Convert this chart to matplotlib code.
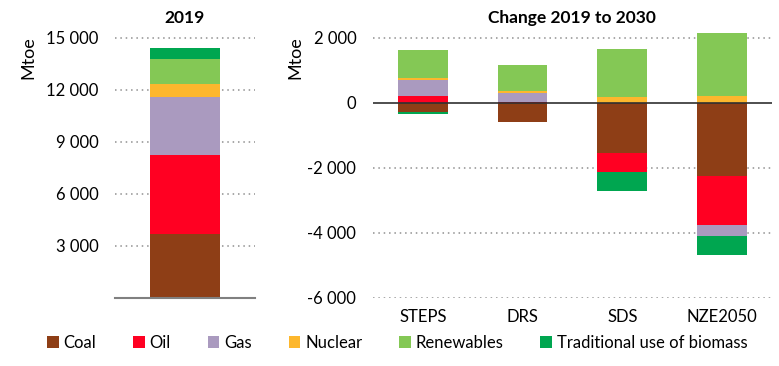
import matplotlib.pyplot as plt
from matplotlib.patches import Patch
import numpy as np

plt.rcParams['font.family'] = ['Lato', 'DejaVu Sans']

# fuel names and colours
fuels = ['Coal', 'Oil', 'Gas', 'Nuclear', 'Renewables', 'Traditional use of biomass']
colors = ['#8E3E16', '#FF0022', '#AA9ABF', '#FDB72D', '#84C855', '#00A650']

# 2019 total energy supply by fuel (Mtoe)
supply_2019 = [3700, 4550, 3350, 750, 1450, 630]

# change 2019 to 2030 by scenario (Mtoe)
scenarios = ['STEPS', 'DRS', 'SDS', 'NZE2050']
coal = [-290, -595, -1560, -2245]
oil = [225, 30, -565, -1530]
gas = [470, 280, -20, -320]
nuclear = [80, 60, 165, 225]
renewables = [860, 810, 1500, 1930]
biomass = [-50, -10, -585, -585]
changes = [coal, oil, gas, nuclear, renewables, biomass]

left_ticks = [3000, 6000, 9000, 12000, 15000]
right_ticks = [-6000, -4000, -2000, 0, 2000]


def fmt(v):
    return '{:,}'.format(v).replace(',', ' ')


fig = plt.figure(figsize=(7.79, 3.66), dpi=100)
ax1 = fig.add_axes([0.1476, 0.187, 0.1797, 0.736])
ax2 = fig.add_axes([0.4788, 0.187, 0.512, 0.736])

# left panel: 2019
bottom = 0
for val, c in zip(supply_2019, colors):
    ax1.bar(0, val, bottom=bottom, width=0.5, color=c, zorder=3)
    bottom += val
ax1.set_xlim(-0.5, 0.5)
ax1.set_ylim(0, 15560)
ax1.set_yticks(left_ticks)
ax1.set_yticklabels([fmt(t) for t in left_ticks])
for t in left_ticks:
    ax1.axhline(t, color='#909090', linestyle=(0, (1, 2.5)), linewidth=1.1, zorder=1)
ax1.axhline(0, color='#808080', linewidth=1.5, zorder=4, clip_on=False)
ax1.set_xticks([])
ax1.set_title('2019', fontsize=12.5, fontweight='bold', pad=4)
ax1.text(-0.62, 0.97, 'Mtoe', transform=ax1.transAxes, rotation=90,
         fontsize=13, ha='center', va='top')

# right panel: change stacked, positives and negatives separately
x = np.arange(len(scenarios))
pos = np.zeros(len(scenarios))
neg = np.zeros(len(scenarios))
for vals, c in zip(changes, colors):
    vals = np.array(vals, dtype=float)
    b = np.where(vals >= 0, pos, neg)
    ax2.bar(x, vals, bottom=b, width=0.5, color=c, zorder=3)
    pos = pos + np.clip(vals, 0, None)
    neg = neg + np.clip(vals, None, 0)
ax2.set_xlim(-0.5, len(scenarios) - 0.5)
ax2.set_ylim(-6000, 2300)
ax2.set_yticks(right_ticks)
ax2.set_yticklabels([fmt(t) for t in right_ticks])
for t in right_ticks:
    if t != 0:
        ax2.axhline(t, color='#909090', linestyle=(0, (1, 2.5)), linewidth=1.1, zorder=1)
ax2.axhline(0, color='#303030', linewidth=1.2, zorder=4)
ax2.set_xticks(x)
ax2.set_xticklabels(scenarios)
ax2.set_title('Change 2019 to 2030', fontsize=12.5, fontweight='bold', pad=4)
ax2.text(-0.195, 0.97, 'Mtoe', transform=ax2.transAxes, rotation=90,
         fontsize=13, ha='center', va='top')

for ax in (ax1, ax2):
    for s in ax.spines.values():
        s.set_visible(False)
    ax.tick_params(length=0, labelsize=12)
ax1.tick_params(axis='y', pad=12)
ax2.tick_params(axis='y', pad=12)
ax2.tick_params(axis='x', pad=8)

handles = [Patch(facecolor=c, label=f) for f, c in zip(fuels, colors)]
fig.legend(handles=handles, loc='center', bbox_to_anchor=(0.51, 0.063), ncol=6,
           frameon=False, fontsize=12, handlelength=0.7, handleheight=0.7,
           handletextpad=0.3, columnspacing=2.2)

fig.savefig('out.png', dpi=100)
